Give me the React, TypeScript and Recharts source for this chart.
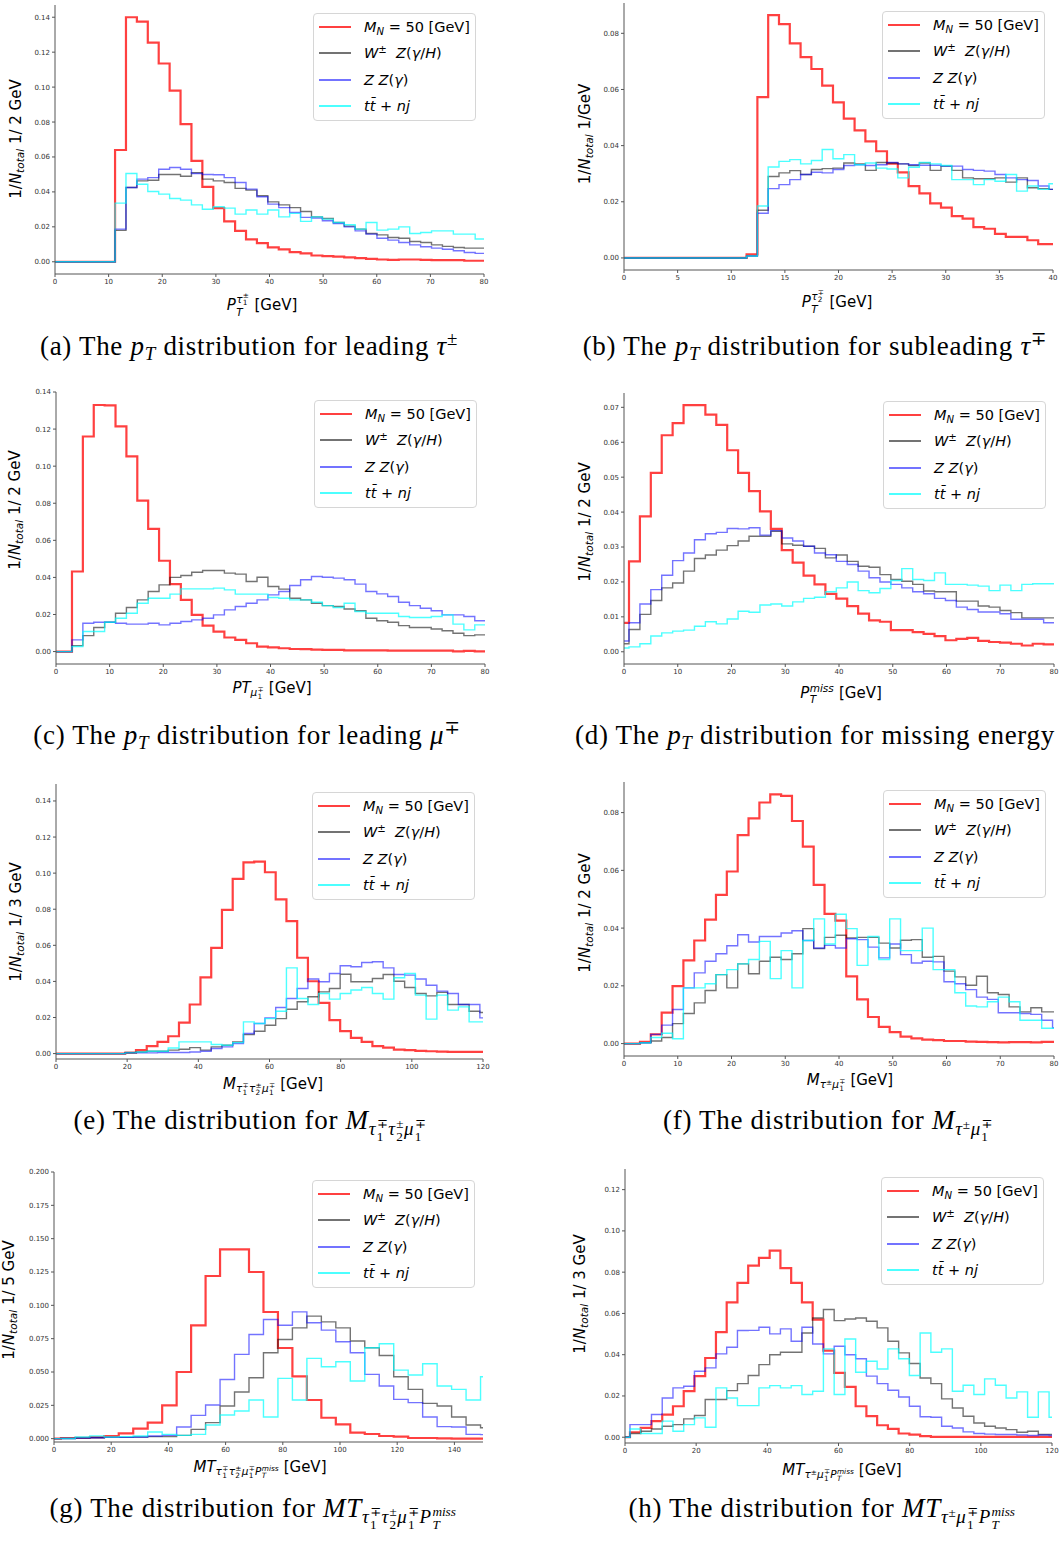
import React from "react";
import { LineChart, Line, XAxis, YAxis } from "recharts";

// ---- histogram contents (bin heights, normalised) ----
// (a) leading tau pT, 2 GeV bins
const aSignal = [0.064, 0.14, 0.1375, 0.1255, 0.1135, 0.098, 0.0788, 0.0578, 0.0429, 0.0307, 0.0231, 0.0177, 0.0128, 0.0107, 0.0082, 0.0071, 0.0055, 0.0048, 0.0036, 0.0032, 0.0029, 0.0025, 0.0021, 0.0017, 0.0013, 0.0011, 0.0013, 0.0013, 0.0011, 0.001, 0.001, 0.001, 0.0006, 0.0006];
const aWZ = [0.018, 0.0425, 0.0463, 0.0467, 0.05, 0.05, 0.049, 0.051, 0.0473, 0.0463, 0.0454, 0.042, 0.041, 0.0378, 0.0343, 0.0326, 0.031, 0.0288, 0.0257, 0.0248, 0.0225, 0.0204, 0.0187, 0.0162, 0.0154, 0.0139, 0.0135, 0.0116, 0.011, 0.0097, 0.0088, 0.0082, 0.0078, 0.0078];
const aZZ = [0.0187, 0.0425, 0.0473, 0.0482, 0.053, 0.054, 0.053, 0.0505, 0.05, 0.0498, 0.0482, 0.0454, 0.0416, 0.0372, 0.033, 0.031, 0.0282, 0.0254, 0.025, 0.0235, 0.0219, 0.02, 0.0177, 0.0158, 0.0135, 0.0124, 0.011, 0.0097, 0.0086, 0.0078, 0.0072, 0.0063, 0.0053, 0.0048];
const aTT = [0.0336, 0.0505, 0.0444, 0.0402, 0.0387, 0.0362, 0.0353, 0.0326, 0.0301, 0.0315, 0.0307, 0.0273, 0.0296, 0.0273, 0.0296, 0.0257, 0.0277, 0.0231, 0.0257, 0.0244, 0.0225, 0.0212, 0.0187, 0.0225, 0.0181, 0.0187, 0.02, 0.0162, 0.0168, 0.0177, 0.0177, 0.0158, 0.0158, 0.013];

// (b) subleading tau pT, 1 GeV bins
const bSignal = [0.0013, 0.0573, 0.0865, 0.0833, 0.0764, 0.0715, 0.0673, 0.0614, 0.0554, 0.0496, 0.0454, 0.0415, 0.038, 0.0336, 0.0305, 0.0256, 0.023, 0.0194, 0.0179, 0.0149, 0.014, 0.011, 0.0104, 0.0086, 0.0075, 0.0075, 0.0063, 0.0049, 0.0049];
const bWZ = [0.0007, 0.017, 0.029, 0.0303, 0.0311, 0.0297, 0.0315, 0.0318, 0.032, 0.0338, 0.0335, 0.0312, 0.034, 0.0338, 0.0335, 0.0329, 0.0338, 0.0312, 0.0327, 0.0312, 0.0285, 0.0282, 0.0282, 0.0285, 0.027, 0.0285, 0.025, 0.0247, 0.0244];
const bZZ = [0.0007, 0.0159, 0.0247, 0.0261, 0.0279, 0.0297, 0.0305, 0.0303, 0.0315, 0.0329, 0.0332, 0.0329, 0.0332, 0.034, 0.0335, 0.0332, 0.033, 0.033, 0.0327, 0.0327, 0.0315, 0.0312, 0.0309, 0.0297, 0.0285, 0.0279, 0.0276, 0.0256, 0.0244];
const bTT = [0.0007, 0.0185, 0.0324, 0.0344, 0.035, 0.0335, 0.0347, 0.0386, 0.0353, 0.0368, 0.0332, 0.0338, 0.032, 0.0317, 0.0285, 0.0323, 0.034, 0.0335, 0.0329, 0.0279, 0.0279, 0.0261, 0.0279, 0.0273, 0.0297, 0.0238, 0.0256, 0.0244, 0.0264];

// (c) leading muon pT, 2 GeV bins
const cSignal = [0.0432, 0.116, 0.133, 0.1328, 0.1215, 0.1053, 0.0814, 0.0662, 0.049, 0.0364, 0.0279, 0.0198, 0.014, 0.0108, 0.0076, 0.0063, 0.0045, 0.0027, 0.0023, 0.0018, 0.0014, 0.0013, 0.0011, 0.0009, 0.0009, 0.0007, 0.0007, 0.0007, 0.0007, 0.0005, 0.0005, 0.0005, 0.0005, 0.0005, 0.0005, 0.0001, 0.0004, 0.0001];
const cWZ = [0.0032, 0.0086, 0.013, 0.0158, 0.0207, 0.0238, 0.0279, 0.0324, 0.036, 0.04, 0.041, 0.0428, 0.0437, 0.0437, 0.0423, 0.0418, 0.0378, 0.0401, 0.0351, 0.0337, 0.0288, 0.0279, 0.0261, 0.0248, 0.0243, 0.023, 0.022, 0.018, 0.0166, 0.0158, 0.014, 0.013, 0.013, 0.0122, 0.0112, 0.0099, 0.0086, 0.009];
const cZZ = [0.0063, 0.0153, 0.0158, 0.0158, 0.0153, 0.0148, 0.0148, 0.0153, 0.0144, 0.0153, 0.0162, 0.0171, 0.018, 0.0198, 0.0225, 0.0243, 0.0261, 0.0279, 0.0306, 0.0324, 0.0356, 0.0387, 0.0405, 0.0401, 0.0396, 0.0387, 0.0364, 0.0324, 0.0311, 0.0297, 0.0266, 0.0248, 0.0234, 0.022, 0.0198, 0.0198, 0.0189, 0.0166];
const cTT = [0.0027, 0.0108, 0.0108, 0.0158, 0.018, 0.0207, 0.0261, 0.0288, 0.0288, 0.031, 0.0338, 0.0338, 0.0338, 0.0342, 0.0333, 0.031, 0.031, 0.031, 0.0292, 0.0288, 0.0279, 0.0279, 0.0266, 0.0248, 0.0238, 0.0261, 0.0216, 0.0207, 0.0207, 0.0207, 0.0189, 0.0184, 0.0184, 0.0189, 0.0198, 0.0148, 0.0117, 0.0144];

// (d) missing pT, 2 GeV bins
const dSignal = [0.0083, 0.0259, 0.0388, 0.0512, 0.062, 0.0655, 0.0706, 0.0706, 0.0679, 0.065, 0.0577, 0.0512, 0.046, 0.0402, 0.0352, 0.0291, 0.0255, 0.0218, 0.0193, 0.0166, 0.0152, 0.0131, 0.0109, 0.009, 0.0086, 0.0062, 0.0062, 0.0056, 0.0051, 0.0045, 0.0033, 0.0037, 0.004, 0.0031, 0.0028, 0.0026, 0.0023, 0.0018, 0.0023, 0.0021];
const dWZ = [0.0023, 0.0064, 0.0107, 0.0147, 0.0183, 0.0197, 0.0231, 0.0267, 0.0277, 0.0291, 0.0304, 0.0317, 0.0331, 0.0331, 0.0345, 0.0309, 0.0305, 0.0302, 0.0296, 0.0269, 0.0277, 0.0259, 0.0245, 0.0242, 0.0221, 0.0207, 0.0202, 0.0193, 0.0174, 0.0172, 0.0172, 0.0145, 0.0145, 0.0131, 0.0128, 0.0118, 0.0112, 0.0097, 0.0097, 0.0097];
const dZZ = [0.0031, 0.0083, 0.0137, 0.0178, 0.0219, 0.0261, 0.0283, 0.0321, 0.0338, 0.0342, 0.0353, 0.0352, 0.0355, 0.0334, 0.0347, 0.0326, 0.0317, 0.0302, 0.0283, 0.0278, 0.0259, 0.025, 0.0231, 0.0212, 0.02, 0.0193, 0.0183, 0.0172, 0.0166, 0.0153, 0.0147, 0.0128, 0.0121, 0.0114, 0.0114, 0.0109, 0.0093, 0.0093, 0.0093, 0.0083];
const dTT = [0.0011, 0.0014, 0.0023, 0.0045, 0.0054, 0.0059, 0.0062, 0.0073, 0.0086, 0.008, 0.0094, 0.0116, 0.0113, 0.0134, 0.0137, 0.0131, 0.0143, 0.0153, 0.0156, 0.0172, 0.0183, 0.02, 0.0175, 0.0169, 0.0181, 0.0204, 0.0238, 0.0207, 0.0204, 0.0226, 0.0193, 0.0193, 0.0191, 0.0188, 0.0175, 0.0191, 0.0175, 0.0193, 0.0195, 0.0195];

// (e) three-lepton invariant mass, 3 GeV bins
const eSignal = [0.0004, 0.0019, 0.0041, 0.0065, 0.0096, 0.0172, 0.0272, 0.0422, 0.0586, 0.0796, 0.0968, 0.106, 0.1064, 0.1005, 0.0855, 0.0734, 0.0531, 0.0401, 0.0281, 0.0185, 0.0124, 0.0087, 0.0065, 0.0041, 0.0033, 0.0022, 0.0019, 0.0015, 0.0013, 0.0011, 0.0009, 0.0009, 0.0009, 0.0009];
const eWZ = [0.0006, 0.0009, 0.0013, 0.0013, 0.0019, 0.0024, 0.0033, 0.0019, 0.0037, 0.0046, 0.0065, 0.0105, 0.0124, 0.0157, 0.0194, 0.0246, 0.0287, 0.0315, 0.0342, 0.0361, 0.044, 0.0398, 0.0398, 0.0416, 0.0438, 0.0401, 0.0366, 0.0333, 0.032, 0.0339, 0.0272, 0.0272, 0.0235, 0.0228];
const eZZ = [0.0004, 0.0004, 0.0004, 0.0006, 0.0006, 0.0006, 0.0009, 0.0013, 0.0028, 0.0037, 0.0056, 0.0111, 0.0167, 0.0198, 0.0255, 0.0305, 0.0361, 0.0413, 0.0398, 0.0444, 0.0487, 0.0481, 0.0505, 0.0509, 0.0475, 0.0438, 0.0435, 0.0413, 0.0379, 0.0346, 0.0333, 0.0272, 0.0272, 0.0198];
const eTT = [0.0004, 0.0009, 0.0013, 0.0013, 0.0031, 0.0065, 0.0065, 0.0065, 0.005, 0.0046, 0.0061, 0.0176, 0.0167, 0.0194, 0.0235, 0.0475, 0.0305, 0.0272, 0.0333, 0.0302, 0.0333, 0.0352, 0.0366, 0.0333, 0.0302, 0.042, 0.0444, 0.0324, 0.0191, 0.0324, 0.0241, 0.0259, 0.0176, 0.0176];

// (f) tau-muon invariant mass, 2 GeV bins
const fSignal = [0.0006, 0.0032, 0.0107, 0.0199, 0.0288, 0.0357, 0.0429, 0.0515, 0.0596, 0.0722, 0.078, 0.0835, 0.0863, 0.0858, 0.0771, 0.0682, 0.055, 0.0449, 0.0426, 0.0233, 0.0153, 0.0092, 0.0058, 0.004, 0.0024, 0.0018, 0.0014, 0.0012, 0.0009, 0.0009, 0.0007, 0.0006, 0.0005, 0.0004, 0.0005, 0.0005, 0.0004, 0.0006, 0.0006];
const fWZ = [0.0003, 0.0009, 0.0021, 0.0069, 0.0104, 0.0141, 0.0184, 0.0239, 0.0193, 0.0276, 0.0242, 0.0285, 0.0299, 0.0291, 0.0311, 0.0398, 0.0329, 0.0368, 0.0375, 0.0366, 0.0368, 0.0368, 0.0348, 0.0331, 0.0358, 0.036, 0.0299, 0.0302, 0.0251, 0.0231, 0.0202, 0.0233, 0.0176, 0.017, 0.0127, 0.011, 0.0124, 0.011, 0.011];
const fZZ = [0.0003, 0.0032, 0.0064, 0.0118, 0.0193, 0.0245, 0.0285, 0.0311, 0.0339, 0.0377, 0.0352, 0.0371, 0.0371, 0.0383, 0.0391, 0.0357, 0.0331, 0.034, 0.0331, 0.0363, 0.036, 0.0334, 0.0297, 0.0345, 0.0308, 0.0279, 0.0285, 0.0283, 0.0214, 0.0207, 0.0187, 0.0161, 0.0153, 0.0107, 0.0107, 0.0104, 0.0101, 0.0081, 0.0055];
const fTT = [0.0003, 0.0021, 0.0036, 0.0017, 0.0193, 0.0193, 0.0207, 0.0239, 0.0256, 0.0276, 0.0291, 0.0354, 0.0225, 0.0322, 0.0193, 0.0357, 0.0432, 0.0345, 0.0448, 0.0398, 0.0271, 0.0371, 0.0291, 0.0432, 0.0322, 0.0322, 0.04, 0.0256, 0.0256, 0.0176, 0.013, 0.0127, 0.0145, 0.0161, 0.0145, 0.0081, 0.0081, 0.0053, 0.0053];

// (g) transverse mass of all objects, 5 GeV bins
const gSignal = [0.0005, 0.0007, 0.0012, 0.002, 0.004, 0.0075, 0.012, 0.025, 0.05, 0.085, 0.122, 0.142, 0.142, 0.125, 0.095, 0.068, 0.0467, 0.029, 0.0157, 0.0107, 0.0045, 0.0035, 0.002, 0.0015, 0.0005, 0.0005, 0.0002, 0.0001, 0.0001, 0.0001];
const gWZ = [0.0001, 0.0005, 0.0007, 0.001, 0.001, 0.0012, 0.0015, 0.0015, 0.0025, 0.007, 0.012, 0.0245, 0.035, 0.0457, 0.0644, 0.0744, 0.0831, 0.0919, 0.0876, 0.0831, 0.0732, 0.0682, 0.0624, 0.0464, 0.037, 0.0265, 0.0245, 0.0162, 0.0102, 0.0082];
const gZZ = [0.0001, 0.0005, 0.0007, 0.001, 0.001, 0.0012, 0.002, 0.0025, 0.0087, 0.0175, 0.0252, 0.0444, 0.0632, 0.0781, 0.0894, 0.0851, 0.0951, 0.0869, 0.0814, 0.0727, 0.0644, 0.0482, 0.0395, 0.0295, 0.027, 0.0162, 0.009, 0.0087, 0.0032, 0.003];
const gTT = [0.0001, 0.0012, 0.002, 0.0012, 0.0015, 0.002, 0.005, 0.0032, 0.0025, 0.0032, 0.0102, 0.0177, 0.0207, 0.029, 0.0162, 0.0452, 0.029, 0.0602, 0.0539, 0.0577, 0.0432, 0.0682, 0.0712, 0.0514, 0.0477, 0.0562, 0.0395, 0.037, 0.029, 0.0464];

// (h) tau-muon-MET transverse mass, 3 GeV bins
const hSignal = [0.0024, 0.0045, 0.0078, 0.011, 0.015, 0.0223, 0.0296, 0.0384, 0.0509, 0.0654, 0.0748, 0.0832, 0.0869, 0.0904, 0.082, 0.0748, 0.0654, 0.057, 0.042, 0.0312, 0.0244, 0.015, 0.0102, 0.0058, 0.004, 0.0018, 0.0013, 0.0005, 0.0002, 0.0002, 0.0002, 0.0002, 0.0002, 0.0002, 0.0002, 0.0002, 0.0002, 0.0002, 0.0002, 0.0002];
const hWZ = [0.0018, 0.0029, 0.004, 0.0053, 0.0061, 0.0089, 0.0105, 0.0183, 0.0183, 0.0226, 0.026, 0.0299, 0.0352, 0.04, 0.0412, 0.0412, 0.0505, 0.0578, 0.0619, 0.0565, 0.0573, 0.0578, 0.0562, 0.053, 0.0465, 0.0409, 0.0357, 0.0287, 0.026, 0.0186, 0.0142, 0.0102, 0.0069, 0.0053, 0.0045, 0.0037, 0.0024, 0.0029, 0.0013, 0.0013];
const hZZ = [0.0061, 0.0061, 0.011, 0.019, 0.0239, 0.0247, 0.032, 0.0336, 0.0404, 0.0436, 0.0517, 0.0518, 0.0533, 0.0501, 0.0525, 0.0465, 0.0533, 0.0452, 0.0404, 0.0441, 0.04, 0.038, 0.0296, 0.026, 0.0228, 0.0195, 0.015, 0.0099, 0.0097, 0.0053, 0.0045, 0.0026, 0.0018, 0.0015, 0.0013, 0.0013, 0.0011, 0.0008, 0.0011, 0.0008];
const hTT = [0.004, 0.0018, 0.0018, 0.0078, 0.0029, 0.0061, 0.0094, 0.0048, 0.0239, 0.019, 0.0153, 0.0153, 0.0239, 0.025, 0.0239, 0.025, 0.0207, 0.0223, 0.0428, 0.0207, 0.0476, 0.0315, 0.0368, 0.0331, 0.0428, 0.038, 0.0299, 0.0505, 0.0412, 0.0428, 0.0223, 0.0252, 0.0207, 0.0283, 0.0252, 0.019, 0.022, 0.0097, 0.022, 0.0097];

// ---- styling ----
const SERIES = [
  { key: "s0", color: "#ff0000", opacity: 0.75, width: 2.2, legendWidth: 2.5 },
  { key: "s1", color: "#000000", opacity: 0.55, width: 1.4, legendWidth: 2 },
  { key: "s2", color: "#0000ff", opacity: 0.55, width: 1.4, legendWidth: 2 },
  { key: "s3", color: "#00ffff", opacity: 0.7, width: 1.4, legendWidth: 2 },
];

const SANS = '"DejaVu Sans", sans-serif';
const SERIF = '"Liberation Serif", "DejaVu Serif", serif';
const AXIS_COLOR = "#555";
const Y_AXIS_W = 50;
const X_AXIS_H = 20;
const PAD_TOP = 4;
const PAD_RIGHT = 14;
const LEGEND_W = 163;
const LEGEND_H = 108;

// small math helpers
const Sb = ({ children }: { children: React.ReactNode }) => (
  <span style={{ fontSize: "0.7em", verticalAlign: "-0.3em", lineHeight: 0 }}>{children}</span>
);
const Sp = ({ children }: { children: React.ReactNode }) => (
  <span style={{ fontSize: "0.7em", verticalAlign: "0.5em", lineHeight: 0 }}>{children}</span>
);
const SS = ({ sup, sub }: { sup?: React.ReactNode; sub?: React.ReactNode }) => (
  <span
    style={{
      display: "inline-block",
      verticalAlign: "middle",
      fontSize: "0.7em",
      lineHeight: 1,
      textAlign: "left",
      margin: "0 0.04em",
      letterSpacing: 0,
    }}
  >
    <span style={{ display: "block" }}>{sup ?? "\u00a0"}</span>
    <span style={{ display: "block" }}>{sub ?? "\u00a0"}</span>
  </span>
);

const LEGEND_LABELS: React.ReactNode[] = [
  <>
    <i>M</i>
    <Sb>
      <i>N</i>
    </Sb>
    {" = 50 [GeV]"}
  </>,
  <>
    <i>W</i>
    <Sp>±</Sp>
    {"\u00a0 "}
    <i>Z</i>(<i>γ</i>/<i>H</i>)
  </>,
  <>
    <i>Z</i> <i>Z</i>(<i>γ</i>)
  </>,
  <>
    <i>tt̄</i> + <i>nj</i>
  </>,
];

type PanelSpec = {
  plot: { left: number; top: number; width: number; height: number };
  xDomain: [number, number];
  xTicks: number[];
  yDomain: [number, number];
  yTicks: number[];
  yDigits: number;
  binStart: number;
  binWidth: number;
  series: number[][];
  xLabel: React.ReactNode;
  xLabelAt: [number, number];
  yUnit: string;
  yLabelAt: [number, number];
  caption: React.ReactNode;
  captionAt: [number, number];
};

const range = (a: number, b: number, step: number) => {
  const out: number[] = [];
  for (let v = a; v <= b + step * 1e-6; v += step) out.push(Math.round(v * 1e6) / 1e6);
  return out;
};

// step outline rows: one row per bin edge, last edge repeats the final bin
function histRows(start: number, width: number, series: number[][]) {
  const n = series[0].length;
  const rows: Record<string, number>[] = [];
  if (start > 0) rows.push({ x: 0, s0: 0, s1: 0, s2: 0, s3: 0 });
  for (let i = 0; i <= n; i++) {
    const k = Math.min(i, n - 1);
    const row: Record<string, number> = { x: start + i * width };
    series.forEach((s, j) => (row["s" + j] = s[k]));
    rows.push(row);
  }
  return rows;
}

const tauLabel = (sub: string, sup: string) => (
  <>
    <i>τ</i>
    <SS sup={sup} sub={sub} />
  </>
);
const muLabel = (
  <>
    <i>μ</i>
    <SS sup="∓" sub="1" />
  </>
);
const ptMiss = (
  <>
    <i>P</i>
    <SS sup={<i>miss</i>} sub={<i>T</i>} />
  </>
);

const PANELS: PanelSpec[] = [
  {
    plot: { left: 55, top: 5, width: 429, height: 269 },
    xDomain: [0, 80],
    xTicks: range(0, 80, 10),
    yDomain: [-0.007, 0.147],
    yTicks: range(0, 0.14, 0.02),
    yDigits: 2,
    binStart: 11.2,
    binWidth: 2.035,
    series: [aSignal, aWZ, aZZ, aTT],
    xLabel: (
      <>
        <i>P</i>
        <SS sup={tauLabel("1", "±")} sub={<i>T</i>} /> [GeV]
      </>
    ),
    xLabelAt: [262, 305],
    yUnit: "1/ 2 GeV",
    yLabelAt: [16, 139],
    caption: (
      <>
        (a) The <i>p</i>
        <Sb>
          <i>T</i>
        </Sb>{" "}
        distribution for leading <i>τ</i>
        <Sp>±</Sp>
      </>
    ),
    captionAt: [249, 346],
  },
  {
    plot: { left: 624, top: 3, width: 429, height: 267 },
    xDomain: [0, 40],
    xTicks: range(0, 40, 5),
    yDomain: [-0.0043, 0.0908],
    yTicks: range(0, 0.08, 0.02),
    yDigits: 2,
    binStart: 11.43,
    binWidth: 1.007,
    series: [bSignal, bWZ, bZZ, bTT],
    xLabel: (
      <>
        <i>P</i>
        <SS sup={tauLabel("2", "∓")} sub={<i>T</i>} /> [GeV]
      </>
    ),
    xLabelAt: [837, 302],
    yUnit: "1/GeV",
    yLabelAt: [585, 134],
    caption: (
      <>
        (b) The <i>p</i>
        <Sb>
          <i>T</i>
        </Sb>{" "}
        distribution for subleading <i>τ</i>
        <Sp>∓</Sp>
      </>
    ),
    captionAt: [815, 346],
  },
  {
    plot: { left: 56, top: 392, width: 429, height: 272 },
    xDomain: [0, 80],
    xTicks: range(0, 80, 10),
    yDomain: [-0.0067, 0.14],
    yTicks: range(0, 0.14, 0.02),
    yDigits: 2,
    binStart: 2.98,
    binWidth: 2.03,
    series: [cSignal, cWZ, cZZ, cTT],
    xLabel: (
      <>
        <i>PT</i>
        <Sb>{muLabel}</Sb> [GeV]
      </>
    ),
    xLabelAt: [272, 690],
    yUnit: "1/ 2 GeV",
    yLabelAt: [15, 510],
    caption: (
      <>
        (c) The <i>p</i>
        <Sb>
          <i>T</i>
        </Sb>{" "}
        distribution for leading <i>μ</i>
        <Sp>∓</Sp>
      </>
    ),
    captionAt: [247, 735],
  },
  {
    plot: { left: 624, top: 393, width: 430, height: 271 },
    xDomain: [0, 80],
    xTicks: range(0, 80, 10),
    yDomain: [-0.0035, 0.0741],
    yTicks: range(0, 0.07, 0.01),
    yDigits: 2,
    binStart: -1.1,
    binWidth: 2.03,
    series: [dSignal, dWZ, dZZ, dTT],
    xLabel: <>{ptMiss} [GeV]</>,
    xLabelAt: [841, 693],
    yUnit: "1/ 2 GeV",
    yLabelAt: [585, 522],
    caption: (
      <>
        (d) The <i>p</i>
        <Sb>
          <i>T</i>
        </Sb>{" "}
        distribution for missing energy
      </>
    ),
    captionAt: [815, 735],
  },
  {
    plot: { left: 56, top: 784, width: 427, height: 275 },
    xDomain: [0, 120],
    xTicks: range(0, 120, 20),
    yDomain: [-0.003, 0.1494],
    yTicks: range(0, 0.14, 0.02),
    yDigits: 2,
    binStart: 19.46,
    binWidth: 3.02,
    series: [eSignal, eWZ, eZZ, eTT],
    xLabel: (
      <>
        <i>M</i>
        <Sb>
          {tauLabel("1", "∓")}
          {tauLabel("2", "±")}
          {muLabel}
        </Sb>{" "}
        [GeV]
      </>
    ),
    xLabelAt: [273, 1086],
    yUnit: "1/ 3 GeV",
    yLabelAt: [16, 922],
    caption: (
      <>
        (e) The distribution for <i>M</i>
        <Sb>
          {tauLabel("1", "∓")}
          {tauLabel("2", "±")}
          {muLabel}
        </Sb>
      </>
    ),
    captionAt: [250, 1124],
  },
  {
    plot: { left: 624, top: 782, width: 430, height: 274 },
    xDomain: [0, 80],
    xTicks: range(0, 80, 10),
    yDomain: [-0.0043, 0.0906],
    yTicks: range(0, 0.08, 0.02),
    yDigits: 2,
    binStart: 2.97,
    binWidth: 2.02,
    series: [fSignal, fWZ, fZZ, fTT],
    xLabel: (
      <>
        <i>M</i>
        <Sb>
          <i>τ</i>
          <Sp>±</Sp>
          {muLabel}
        </Sb>{" "}
        [GeV]
      </>
    ),
    xLabelAt: [850, 1082],
    yUnit: "1/ 2 GeV",
    yLabelAt: [585, 913],
    caption: (
      <>
        (f) The distribution for <i>M</i>
        <Sb>
          <i>τ</i>
          <Sp>±</Sp>
          {muLabel}
        </Sb>
      </>
    ),
    captionAt: [828, 1124],
  },
  {
    plot: { left: 54, top: 1172, width: 429, height: 270 },
    xDomain: [0, 150],
    xTicks: range(0, 140, 20),
    yDomain: [-0.0025, 0.2],
    yTicks: range(0, 0.2, 0.025),
    yDigits: 3,
    binStart: 2.4,
    binWidth: 5.06,
    series: [gSignal, gWZ, gZZ, gTT],
    xLabel: (
      <>
        <i>MT</i>
        <Sb>
          {tauLabel("1", "∓")}
          {tauLabel("2", "±")}
          {muLabel}
          {ptMiss}
        </Sb>{" "}
        [GeV]
      </>
    ),
    xLabelAt: [260, 1469],
    yUnit: "1/ 5 GeV",
    yLabelAt: [9, 1300],
    caption: (
      <>
        (g) The distribution for <i>MT</i>
        <Sb>
          {tauLabel("1", "∓")}
          {tauLabel("2", "±")}
          {muLabel}
          {ptMiss}
        </Sb>
      </>
    ),
    captionAt: [253, 1512],
  },
  {
    plot: { left: 625, top: 1169, width: 427, height: 274 },
    xDomain: [0, 120],
    xTicks: range(0, 120, 20),
    yDomain: [-0.0028, 0.13],
    yTicks: range(0, 0.12, 0.02),
    yDigits: 2,
    binStart: 1.4,
    binWidth: 3.02,
    series: [hSignal, hWZ, hZZ, hTT],
    xLabel: (
      <>
        <i>MT</i>
        <Sb>
          <i>τ</i>
          <Sp>±</Sp>
          {muLabel}
          {ptMiss}
        </Sb>{" "}
        [GeV]
      </>
    ),
    xLabelAt: [842, 1472],
    yUnit: "1/ 3 GeV",
    yLabelAt: [580, 1294],
    caption: (
      <>
        (h) The distribution for <i>MT</i>
        <Sb>
          <i>τ</i>
          <Sp>±</Sp>
          {muLabel}
          {ptMiss}
        </Sb>
      </>
    ),
    captionAt: [822, 1512],
  },
];

const tickStyle = { fontSize: 7, fill: "#333", fontFamily: SANS };

function HistLegend({ left, top }: { left: number; top: number }) {
  return (
    <div
      style={{
        position: "absolute",
        left,
        top,
        width: LEGEND_W,
        height: LEGEND_H,
        boxSizing: "border-box",
        border: "1px solid #d6d6d6",
        borderRadius: 4,
        background: "rgba(255,255,255,0.8)",
        fontFamily: SANS,
        fontSize: 14.5,
        color: "#000",
      }}
    >
      {SERIES.map((s, i) => (
        <div key={s.key} style={{ position: "absolute", left: 0, top: 13 + 26.4 * i - 10, height: 20, width: "100%" }}>
          <div
            style={{
              position: "absolute",
              left: 5,
              top: 10 - s.legendWidth / 2,
              width: 32,
              height: s.legendWidth,
              background: s.color,
              opacity: s.opacity,
            }}
          />
          <div style={{ position: "absolute", left: 50, top: 1, lineHeight: "18px", whiteSpace: "nowrap" }}>
            {LEGEND_LABELS[i]}
          </div>
        </div>
      ))}
    </div>
  );
}

function HistPanel({ spec }: { spec: PanelSpec }) {
  const { plot } = spec;
  const rows = histRows(spec.binStart, spec.binWidth, spec.series);
  return (
    <>
      <div style={{ position: "absolute", left: plot.left - Y_AXIS_W, top: plot.top - PAD_TOP }}>
        <LineChart
          width={plot.width + Y_AXIS_W + PAD_RIGHT}
          height={plot.height + PAD_TOP + X_AXIS_H}
          data={rows}
          margin={{ top: PAD_TOP, right: PAD_RIGHT, bottom: 0, left: 0 }}
        >
          <XAxis
            dataKey="x"
            type="number"
            domain={spec.xDomain}
            ticks={spec.xTicks}
            interval={0}
            allowDataOverflow
            height={X_AXIS_H}
            tick={tickStyle}
            tickSize={3}
            tickMargin={2}
            stroke={AXIS_COLOR}
          />
          <XAxis
            xAxisId="top"
            orientation="top"
            dataKey="x"
            type="number"
            domain={spec.xDomain}
            allowDataOverflow
            height={0}
            tick={false}
            tickLine={false}
            stroke={AXIS_COLOR}
          />
          <YAxis
            type="number"
            domain={spec.yDomain}
            ticks={spec.yTicks}
            interval={0}
            allowDataOverflow
            width={Y_AXIS_W}
            tick={tickStyle}
            tickSize={3}
            tickMargin={2}
            tickFormatter={(v: number) => v.toFixed(spec.yDigits)}
            stroke={AXIS_COLOR}
          />
          <YAxis
            yAxisId="right"
            orientation="right"
            type="number"
            domain={spec.yDomain}
            allowDataOverflow
            width={0}
            tick={false}
            tickLine={false}
            stroke={AXIS_COLOR}
          />
          {SERIES.map((s) => (
            <Line
              key={s.key}
              dataKey={s.key}
              type="stepAfter"
              stroke={s.color}
              strokeOpacity={s.opacity}
              strokeWidth={s.width}
              dot={false}
              activeDot={false}
              isAnimationActive={false}
            />
          ))}
        </LineChart>
      </div>
      <HistLegend left={plot.left + plot.width - 8 - LEGEND_W} top={plot.top + 8} />
      <div
        style={{
          position: "absolute",
          left: spec.xLabelAt[0],
          top: spec.xLabelAt[1],
          transform: "translate(-50%, -50%)",
          fontFamily: SANS,
          fontSize: 15,
          whiteSpace: "nowrap",
          lineHeight: 1.2,
        }}
      >
        {spec.xLabel}
      </div>
      <div
        style={{
          position: "absolute",
          left: spec.yLabelAt[0],
          top: spec.yLabelAt[1],
          transform: "translate(-50%, -50%) rotate(-90deg)",
          fontFamily: SANS,
          fontSize: 15,
          whiteSpace: "nowrap",
          lineHeight: 1.2,
        }}
      >
        1/<i>N</i>
        <Sb>
          <i>total</i>
        </Sb>{" "}
        {spec.yUnit}
      </div>
      <div
        style={{
          position: "absolute",
          left: spec.captionAt[0],
          top: spec.captionAt[1],
          transform: "translate(-50%, -50%)",
          fontFamily: SERIF,
          fontSize: 27,
          letterSpacing: 0.7,
          whiteSpace: "nowrap",
          lineHeight: 1.2,
        }}
      >
        {spec.caption}
      </div>
    </>
  );
}

export default function App() {
  return (
    <div
      style={{
        position: "absolute",
        left: 0,
        top: 0,
        width: 1062,
        height: 1541,
        background: "#fff",
        overflow: "hidden",
        color: "#000",
      }}
    >
      {PANELS.map((p, i) => (
        <HistPanel key={i} spec={p} />
      ))}
    </div>
  );
}
